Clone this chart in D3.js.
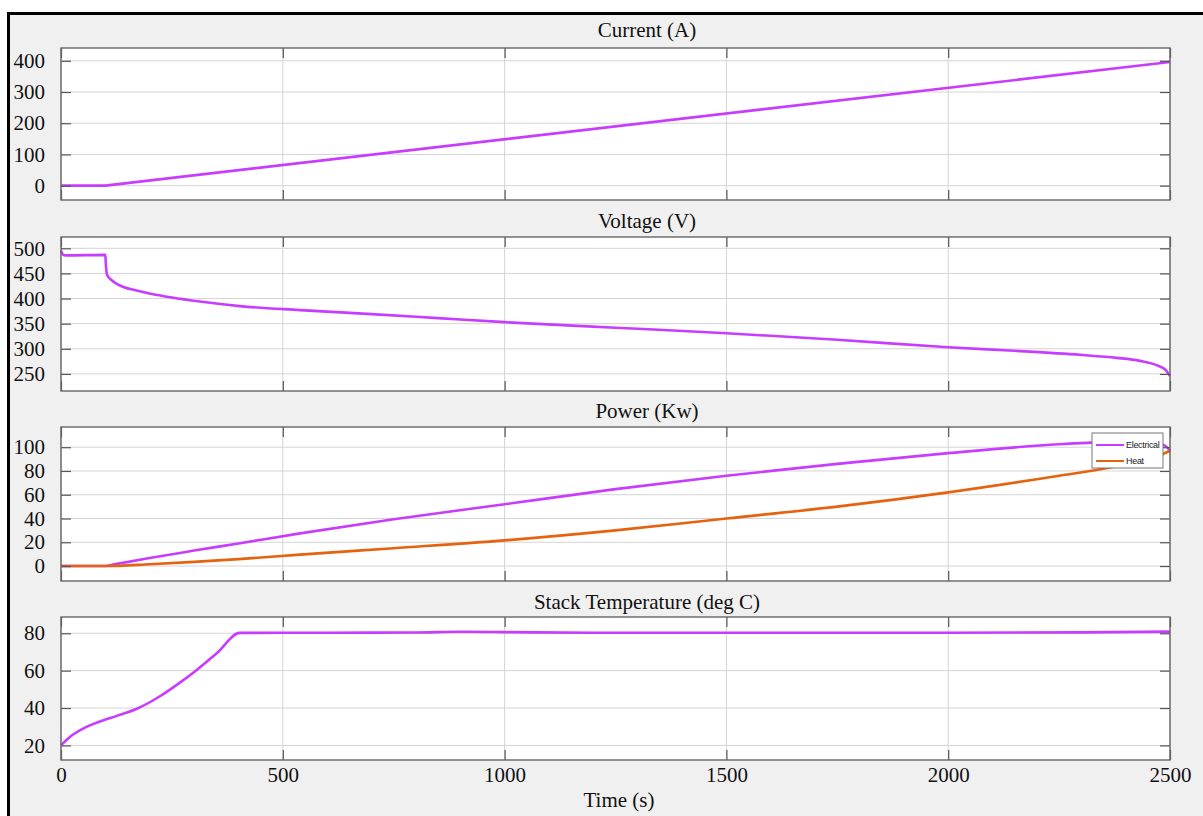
<!DOCTYPE html>
<html><head><meta charset="utf-8">
<script src="https://cdn.jsdelivr.net/npm/d3@7"></script>
<style>html,body{margin:0;padding:0;background:#fff;}svg{display:block;}</style>
</head><body>
<svg id="chart" width="1203" height="816"></svg>
<script>
// ---- data ----
const xTicks = [0, 500, 1000, 1500, 2000, 2500];
const currentT = [0, 100, 2500];
const currentV = [0, 0, 396];
const voltageT = [0, 5, 10, 100, 101, 104, 115, 133, 170, 200, 250, 313, 403, 539, 700, 850, 1000, 1250, 1500, 1750, 2000, 2150, 2297, 2380, 2432, 2471, 2490, 2500];
const voltageV = [495, 487, 486, 487, 470, 447, 436, 426, 416, 410, 402, 394, 385, 377, 369, 361, 353, 342, 331, 318, 303, 296, 288, 282, 276, 267, 258, 246];
const elecT = [0, 100, 120, 200, 300, 400, 539, 750, 1000, 1250, 1500, 1750, 2000, 2250, 2365, 2432, 2471, 2490, 2500];
const elecV = [0, 0, 1.4, 6.8, 13, 19, 27.5, 39.4, 52, 64.7, 76, 86, 95, 102.5, 104.5, 105, 103.5, 101, 97];
const heatT = [0, 100, 200, 300, 400, 539, 750, 1000, 1250, 1500, 1750, 2000, 2250, 2365, 2477, 2500];
const heatV = [0, 0, 1.5, 3.5, 5.8, 9.6, 15, 21.6, 30, 40, 50, 62, 76, 83, 93, 97];
const tempT = [0, 20, 50, 88, 126, 171, 223, 268, 306, 351, 403, 600, 800, 900, 1000, 1200, 1500, 2000, 2300, 2500];
const tempV = [20, 24.5, 29, 32.8, 35.8, 39.6, 46.3, 53.6, 60.4, 69.3, 80.2, 80.3, 80.4, 80.8, 80.6, 80.3, 80.3, 80.3, 80.5, 80.9];
const currentTicks = [0, 100, 200, 300, 400];
const voltageTicks = [250, 300, 350, 400, 450, 500];
const powerTicks = [0, 20, 40, 60, 80, 100];
const tempTicks = [20, 40, 60, 80];
const titles = ["Current (A)", "Voltage (V)", "Power (Kw)", "Stack Temperature (deg C)"];
const legendLabels = ["Electrical", "Heat"];

const PURPLE = "#c73cff", ORANGE = "#e5620f";
const svg = d3.select("#chart");
// outer figure
svg.append("rect").attr("x", 8.5).attr("y", 13.5).attr("width", 1200).attr("height", 810)
  .attr("fill", "#f0f0f0").attr("stroke", "#000").attr("stroke-width", 3);

const x = d3.scaleLinear().domain([0, 2500]).range([61, 1170]);
const zip = (t, v) => t.map((d, i) => [d, v[i]]);

const panels = [
  {top: 48, bottom: 200, domain: [-46, 441], ticks: currentTicks, series: [{d: zip(currentT, currentV), c: PURPLE, curve: d3.curveLinear}], titleY: 37},
  {top: 237, bottom: 391, domain: [216, 522.5], ticks: voltageTicks, series: [{d: zip(voltageT, voltageV), c: PURPLE, curve: d3.curveMonotoneX}], titleY: 228},
  {top: 427, bottom: 581, domain: [-12.6, 117], ticks: powerTicks, series: [{d: zip(elecT, elecV), c: PURPLE, curve: d3.curveMonotoneX}, {d: zip(heatT, heatV), c: ORANGE, curve: d3.curveMonotoneX}], titleY: 418, legend: true},
  {top: 617, bottom: 760, domain: [12.2, 88.7], ticks: tempTicks, series: [{d: zip(tempT, tempV), c: PURPLE, curve: d3.curveMonotoneX}], titleY: 609}
];

panels.forEach((p, pi) => {
  const y = d3.scaleLinear().domain(p.domain).range([p.bottom, p.top]);
  const g = svg.append("g");
  g.append("rect").attr("x", 61).attr("y", p.top).attr("width", 1109).attr("height", p.bottom - p.top).attr("fill", "#fff");
  // grid
  g.selectAll(".gx").data(xTicks).join("line")
    .attr("x1", d => x(d)).attr("x2", d => x(d)).attr("y1", p.top).attr("y2", p.bottom)
    .attr("stroke", "#d4d4d4").attr("stroke-width", 1);
  g.selectAll(".gy").data(p.ticks).join("line")
    .attr("x1", 61).attr("x2", 1170).attr("y1", d => y(d)).attr("y2", d => y(d))
    .attr("stroke", "#d4d4d4").attr("stroke-width", 1);
  // lines
  p.series.forEach(s => {
    g.append("path").datum(s.d)
      .attr("d", d3.line().x(d => x(d[0])).y(d => y(d[1])).curve(s.curve))
      .attr("fill", "none").attr("stroke", s.c).attr("stroke-width", 2.6).attr("stroke-linejoin", "round");
  });
  // axes with inside ticks
  const tick = 10;
  const axL = d3.axisLeft(y).tickValues(p.ticks).tickSizeInner(-tick).tickSizeOuter(0).tickPadding(16);
  const axR = d3.axisRight(y).tickValues(p.ticks).tickSizeInner(-tick).tickSizeOuter(0).tickFormat("");
  const axT = d3.axisTop(x).tickValues(xTicks).tickSizeInner(-tick).tickSizeOuter(0).tickFormat("");
  const axB = d3.axisBottom(x).tickValues(xTicks).tickSizeInner(-tick).tickSizeOuter(0).tickPadding(7)
    .tickFormat(pi === 3 ? d3.format("d") : "");
  [[axL, `translate(61,0)`], [axR, `translate(1170,0)`], [axT, `translate(0,${p.top})`], [axB, `translate(0,${p.bottom})`]].forEach(([ax, tr]) => {
    const a = g.append("g").attr("transform", tr).call(ax);
    a.select(".domain").remove();
    a.selectAll("line").attr("stroke", "#555").attr("stroke-width", 1.2);
    a.selectAll("text").attr("font-family", "'Liberation Serif', 'Times New Roman', serif").attr("font-size", 21).attr("fill", "#111");
  });
  // box
  g.append("rect").attr("x", 61).attr("y", p.top).attr("width", 1109).attr("height", p.bottom - p.top)
    .attr("fill", "none").attr("stroke", "#666").attr("stroke-width", 1.4);
  // title
  g.append("text").attr("x", 647).attr("y", p.titleY).attr("text-anchor", "middle")
    .attr("font-family", "'Liberation Serif', 'Times New Roman', serif").attr("font-size", 21).attr("fill", "#111")
    .text(titles[pi]);
  if (p.legend) {
    const lg = g.append("g").attr("transform", "translate(1092,433)");
    lg.append("rect").attr("width", 71).attr("height", 35).attr("fill", "#fff").attr("stroke", "#777").attr("stroke-width", 1);
    [PURPLE, ORANGE].forEach((c, i) => {
      const yy = 12 + i * 16;
      lg.append("line").attr("x1", 4).attr("x2", 32).attr("y1", yy).attr("y2", yy).attr("stroke", c).attr("stroke-width", 2);
      lg.append("text").attr("x", 34).attr("y", yy).attr("dy", "0.35em")
        .attr("font-family", "'Liberation Sans', Arial, sans-serif").attr("font-size", 9).attr("fill", "#222")
        .attr("letter-spacing", -0.3).text(legendLabels[i]);
    });
  }
});

svg.append("text").attr("x", 619).attr("y", 807).attr("text-anchor", "middle")
  .attr("font-family", "'Liberation Serif', 'Times New Roman', serif").attr("font-size", 21).attr("fill", "#111")
  .text("Time (s)");
</script>
</body></html>
